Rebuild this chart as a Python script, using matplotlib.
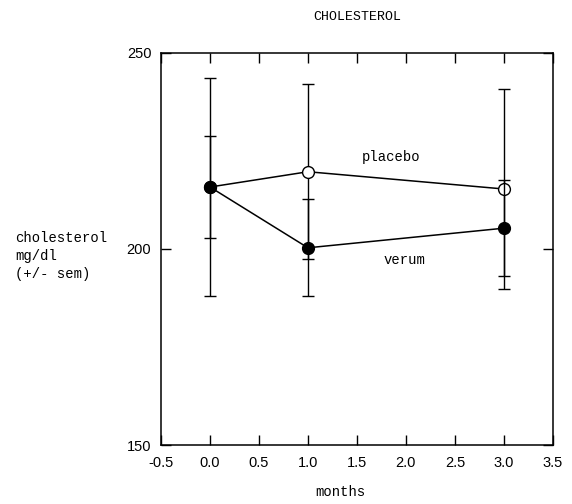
import matplotlib
matplotlib.use("Agg")
import matplotlib.pyplot as plt

months = [0, 1, 3]
placebo = [215.8, 219.7, 215.3]
placebo_sem = [27.8, 22.3, 25.4]
verum = [215.8, 200.3, 205.3]
verum_sem = [13.0, 12.4, 12.2]
xticks = [-0.5, 0.0, 0.5, 1.0, 1.5, 2.0, 2.5, 3.0, 3.5]
yticks = [150, 200, 250]

serif = ["Liberation Mono", "DejaVu Sans Mono"]
sans = ["Liberation Sans", "DejaVu Sans"]

fig = plt.figure(figsize=(5.72, 5.04), dpi=100)
ax = fig.add_axes([0.2815, 0.117, 0.685, 0.778])

ax.errorbar(months, placebo, yerr=placebo_sem, color="black", lw=1.1,
            elinewidth=1.0, capsize=4, capthick=1.0, marker="o", ms=8.5,
            mfc="white", mec="black", mew=1.0, zorder=2)
ax.errorbar(months, verum, yerr=verum_sem, color="black", lw=1.1,
            elinewidth=1.0, capsize=4, capthick=1.0, marker="o", ms=8.5,
            mfc="black", mec="black", mew=1.0, zorder=3)

ax.set_xlim(-0.5, 3.5)
ax.set_ylim(150, 250)
ax.set_xticks(xticks)
ax.set_xticklabels([f"{t:.1f}" for t in xticks], fontfamily=sans, fontsize=10.5)
ax.set_yticks(yticks)
ax.set_yticklabels([str(t) for t in yticks], fontfamily=sans, fontsize=10.5)
ax.tick_params(direction="in", length=7, width=1.0, top=True, right=True)
ax.tick_params(axis="x", pad=8)
ax.tick_params(axis="y", pad=7)
for s in ax.spines.values():
    s.set_linewidth(1.1)

ax.text(1.85, 223.5, "placebo", ha="center", va="center",
        fontfamily=serif, fontsize=10)
ax.text(1.99, 197.2, "verum", ha="center", va="center",
        fontfamily=serif, fontsize=10)

fig.text(357 / 572, 1 - 17 / 504, "CHOLESTEROL", ha="center", va="center",
         fontfamily=serif, fontsize=9.5)
fig.text(340 / 572, 1 - 492 / 504, "months", ha="center", va="center",
         fontfamily=serif, fontsize=10)
fig.text(15 / 572, 1 - 256 / 504, "cholesterol\nmg/dl\n(+/- sem)",
         ha="left", va="center", fontfamily=serif, fontsize=10,
         linespacing=1.35)

fig.savefig("out.png", dpi=100)
